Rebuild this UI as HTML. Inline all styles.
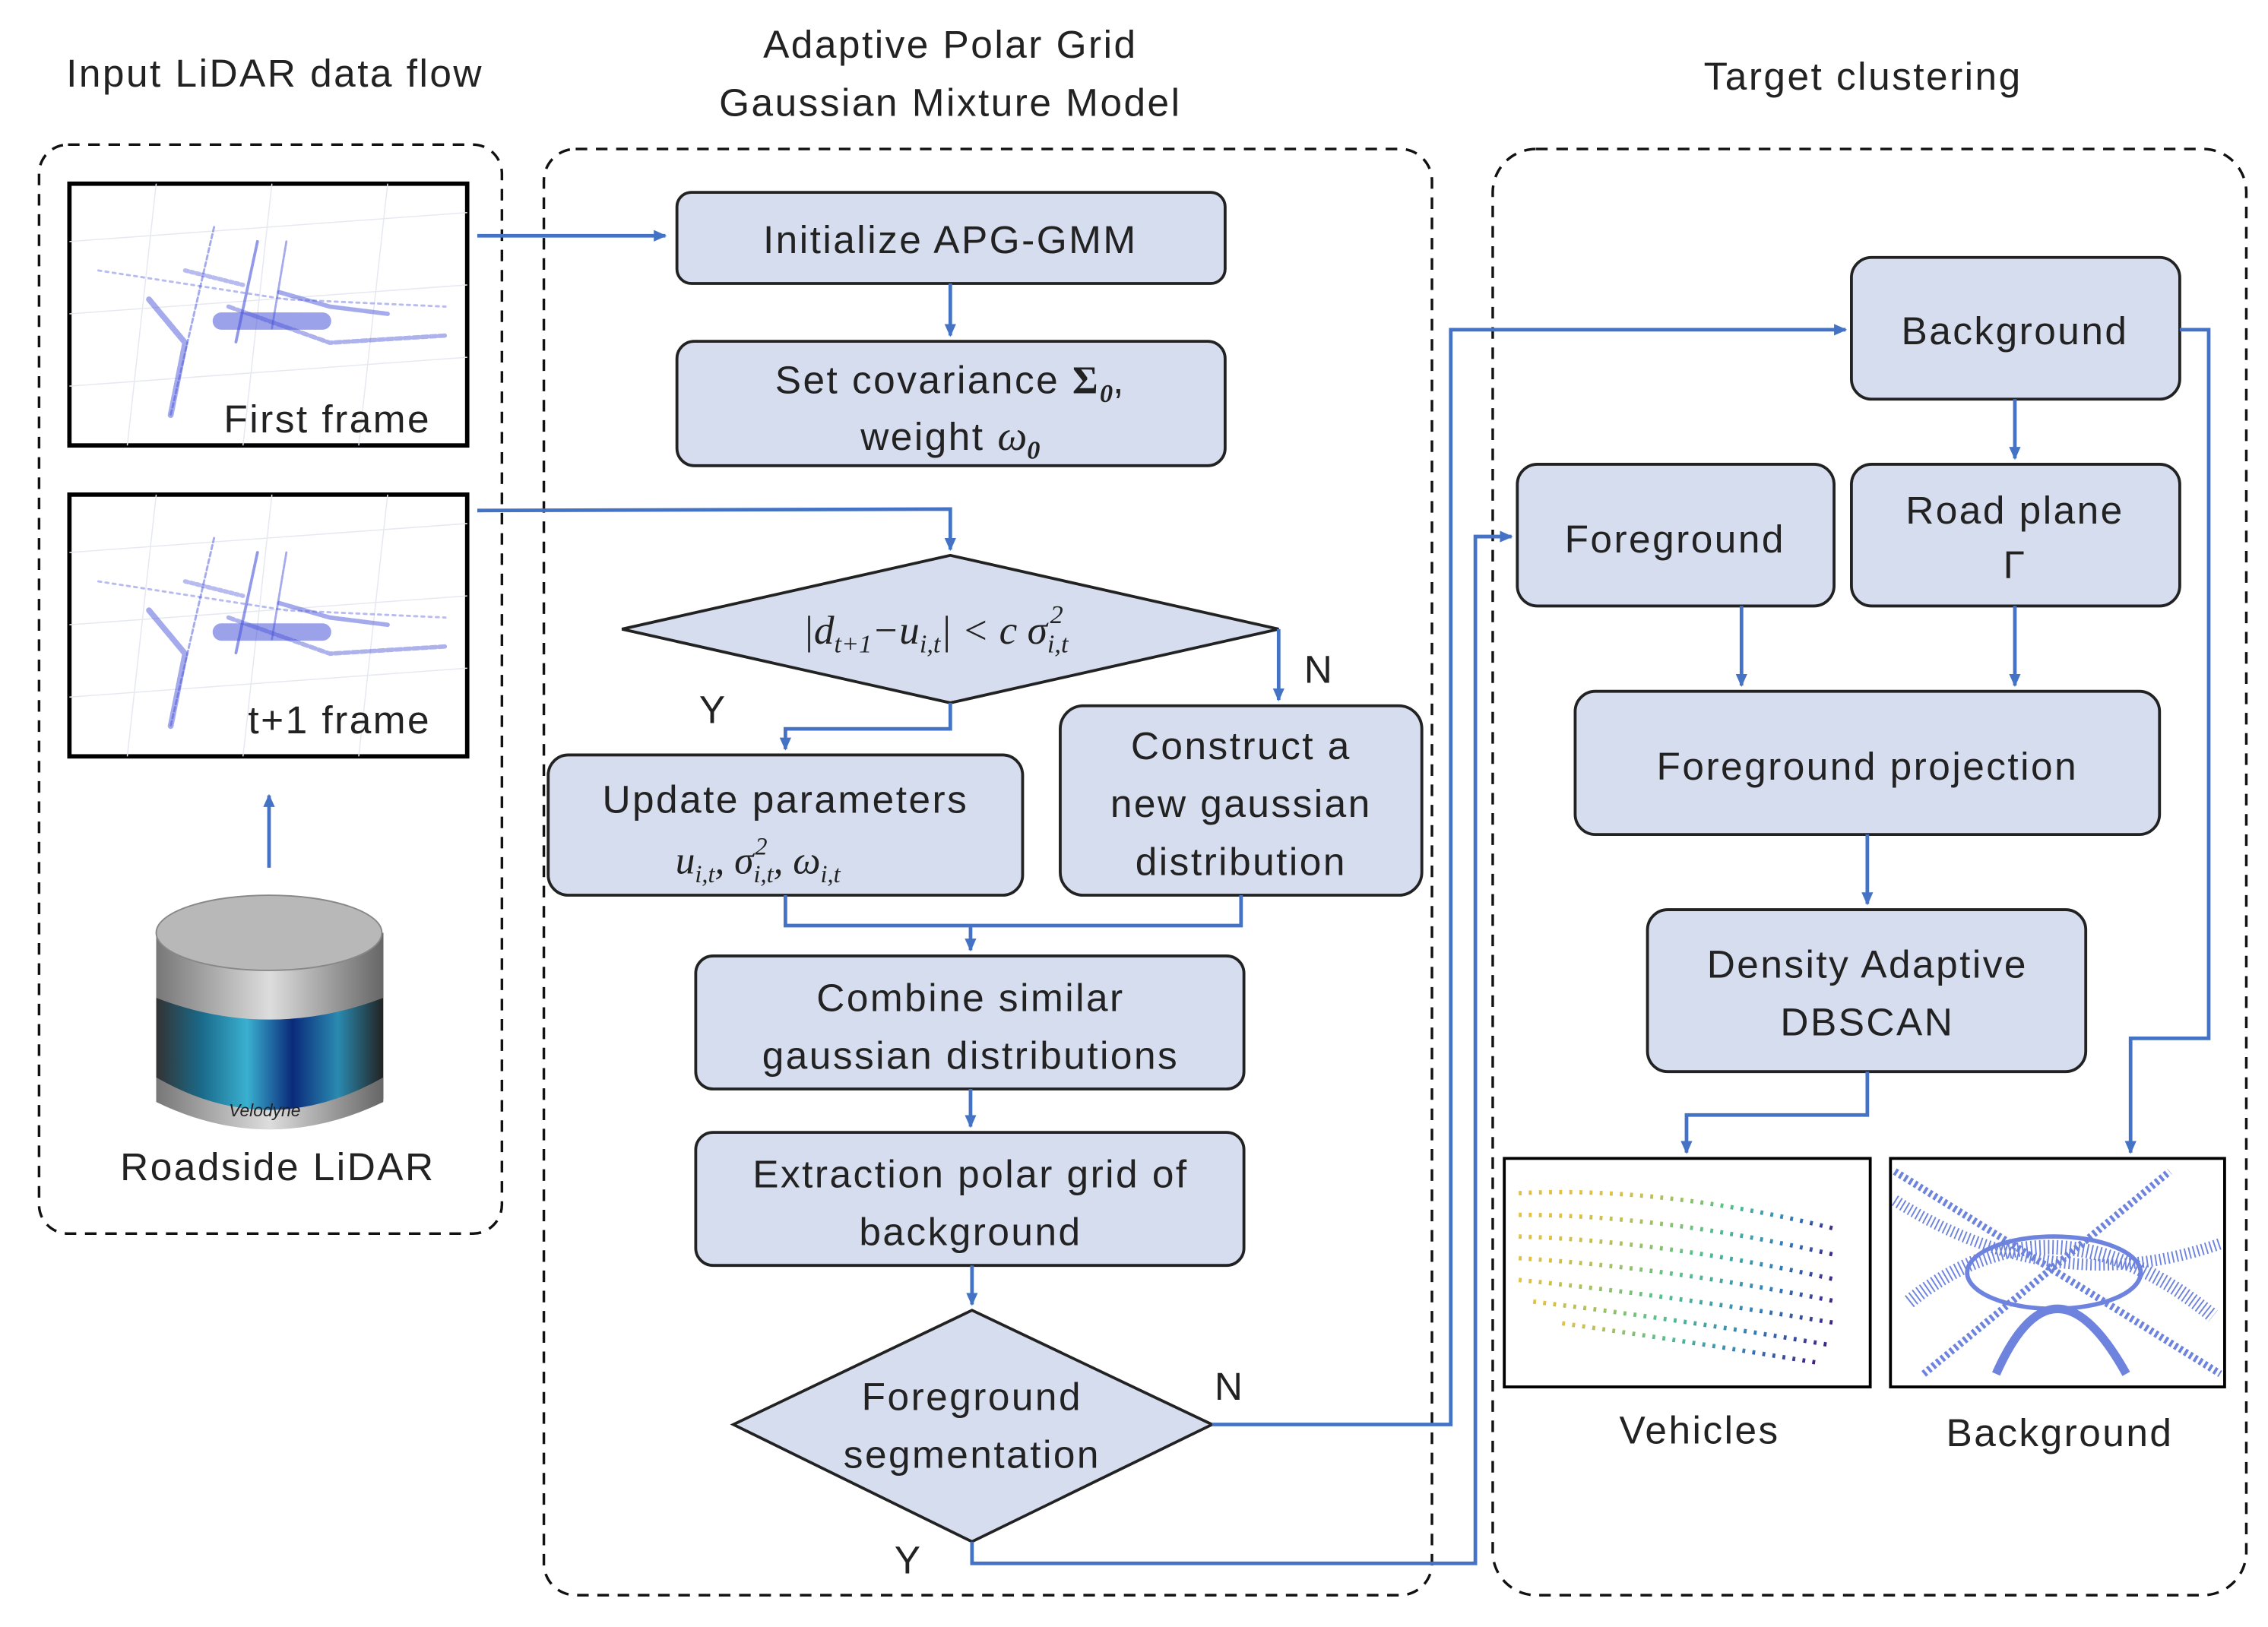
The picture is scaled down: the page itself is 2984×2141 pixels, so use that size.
<!DOCTYPE html>
<html><head><meta charset="utf-8"><style>
html,body{margin:0;padding:0;background:#fff}
svg{display:block}
text{font-family:"Liberation Sans",sans-serif;fill:#222}
.t{letter-spacing:1.3px}
.m{font-family:"Liberation Serif",serif;font-style:italic;letter-spacing:0}
</style></head><body>
<svg width="2984" height="2141" viewBox="0 0 1568 1125" xmlns="http://www.w3.org/2000/svg">
<defs>
<marker id="a" markerWidth="10" markerHeight="10" refX="8" refY="5" orient="auto" markerUnits="userSpaceOnUse"><path d="M0,1 L9,5 L0,9 Z" fill="#4472c4"/></marker>
<g id="pc">
<rect x="0" y="0" width="275" height="181" fill="#fff" stroke="#000" stroke-width="3"/>
<g stroke="#e6e9f0" stroke-width="0.8"><line x1="0" y1="40" x2="275" y2="20"/><line x1="0" y1="90" x2="275" y2="70"/><line x1="0" y1="140" x2="275" y2="120"/><line x1="60" y1="0" x2="40" y2="181"/><line x1="140" y1="0" x2="120" y2="181"/><line x1="220" y1="0" x2="200" y2="181"/></g>
<g stroke="#4a55d8" fill="none" stroke-linecap="round">
<path d="M20,60 L150,80 L260,85" stroke-width="1.5" opacity=".4" stroke-dasharray="2 3"/>
<path d="M100,30 L70,160" stroke-width="1.5" opacity=".5" stroke-dasharray="3 2"/>
<path d="M130,40 L115,110" stroke-width="2" opacity=".6" stroke-dasharray="3 1"/>
<path d="M150,40 L140,100" stroke-width="1.5" opacity=".5" stroke-dasharray="3 1"/>
<path d="M55,80 L80,110 L70,160" stroke-width="4" opacity=".5" stroke-dasharray="3 1"/>
<path d="M105,95 L175,95" stroke-width="12" opacity=".55" stroke-dasharray="2 1"/>
<path d="M110,85 L180,110 L260,105" stroke-width="3" opacity=".45" stroke-dasharray="4 2"/>
<path d="M145,75 L180,85 L220,90" stroke-width="3" opacity=".5" stroke-dasharray="3 1"/>
<path d="M80,60 L120,70" stroke-width="3" opacity=".4" stroke-dasharray="2 2"/>
</g>
</g>
</defs>
<g fill="none" stroke="#111" stroke-width="1.8" stroke-dasharray="8 6">
<rect x="27" y="100" width="320" height="753" rx="20"/>
<rect x="376" y="103" width="614" height="1000" rx="22"/>
<rect x="1032" y="103" width="521" height="1000" rx="30"/>
</g>
<g font-size="27" text-anchor="middle" class="t">
<text x="190" y="60">Input LiDAR data flow</text>
<text x="657" y="40">Adaptive Polar Grid</text>
<text x="657" y="80">Gaussian Mixture Model</text>
<text x="1288" y="62">Target clustering</text>
</g>
<use href="#pc" x="48" y="127"/>
<use href="#pc" x="48" y="342"/>
<text x="298" y="299" font-size="27" text-anchor="end" class="t">First frame</text>
<text x="298" y="507" font-size="27" text-anchor="end" class="t">t+1 frame</text>
<defs><linearGradient id="cy" x1="0" x2="1"><stop offset="0" stop-color="#333"/><stop offset=".2" stop-color="#1a6a8a"/><stop offset=".4" stop-color="#3ab0d0"/><stop offset=".6" stop-color="#0a2a7a"/><stop offset=".8" stop-color="#2a8ab0"/><stop offset="1" stop-color="#222"/></linearGradient>
<linearGradient id="sv" x1="0" x2="1"><stop offset="0" stop-color="#777"/><stop offset=".5" stop-color="#ddd"/><stop offset="1" stop-color="#666"/></linearGradient></defs>
<path d="M108,645 L108,760 Q186,800 265,760 L265,645 Z" fill="url(#cy)"/>
<path d="M108,745 Q186,790 265,745 L265,762 Q186,800 108,762 Z" fill="url(#sv)"/>
<path d="M108,645 L108,690 Q186,720 265,690 L265,645 Z" fill="url(#sv)"/>
<ellipse cx="186" cy="645" rx="78" ry="26" fill="#b8b8b8" stroke="#888"/>
<text x="183" y="772" font-size="12" fill="#333" text-anchor="middle" font-style="italic">Velodyne</text>
<text x="192" y="816" font-size="27" text-anchor="middle" class="t">Roadside LiDAR</text>
<g fill="#d6ddef" stroke="#222" stroke-width="2">
<rect x="468" y="133" width="379" height="63" rx="10"/>
<rect x="468" y="236" width="379" height="86" rx="12"/>
<polygon points="430,435 657,384 884,435 657,486"/>
<rect x="379" y="522" width="328" height="97" rx="14"/>
<rect x="733" y="488" width="250" height="131" rx="16"/>
<rect x="481" y="661" width="379" height="92" rx="12"/>
<rect x="481" y="783" width="379" height="92" rx="12"/>
<polygon points="507,985 672,906 838,985 672,1066"/>
<rect x="1280" y="178" width="227" height="98" rx="14"/>
<rect x="1049" y="321" width="219" height="98" rx="14"/>
<rect x="1280" y="321" width="227" height="98" rx="14"/>
<rect x="1089" y="478" width="404" height="99" rx="14"/>
<rect x="1139" y="629" width="303" height="112" rx="14"/>
</g>
<g font-size="27" text-anchor="middle" class="t">
<text x="657" y="175">Initialize APG-GMM</text>
<text x="657" y="272">Set covariance <tspan font-family="Liberation Serif,serif" font-weight="bold">Σ</tspan><tspan class="m" font-weight="bold" font-size="18" dy="6">0</tspan><tspan dy="-6">,</tspan></text>
<text x="657" y="311">weight <tspan class="m" font-size="29">ω</tspan><tspan class="m" font-weight="bold" font-size="18" dy="6">0</tspan></text>
<text x="555" y="445" text-anchor="start" class="m" font-size="28">|d<tspan font-size="18" dy="6">t+1</tspan><tspan dy="-6">−u</tspan><tspan font-size="18" dy="6">i,t</tspan><tspan dy="-6">| &lt; c σ</tspan><tspan font-size="18" dy="6">i,t</tspan></text>
<text x="726" y="431" class="m" font-size="18" text-anchor="start">2</text>
<text x="543" y="562">Update parameters</text>
<text x="467" y="604" text-anchor="start" class="m" font-size="27">u<tspan font-size="17" dy="6">i,t</tspan><tspan dy="-6">, σ</tspan><tspan font-size="17" dy="6">i,t</tspan><tspan dy="-6">, ω</tspan><tspan font-size="17" dy="6">i,t</tspan></text>
<text x="522" y="591" class="m" font-size="17" text-anchor="start">2</text>
<text x="858" y="525">Construct a</text>
<text x="858" y="565">new gaussian</text>
<text x="858" y="605">distribution</text>
<text x="671" y="699">Combine similar</text>
<text x="671" y="739">gaussian distributions</text>
<text x="671" y="821">Extraction polar grid of</text>
<text x="671" y="861">background</text>
<text x="672" y="975">Foreground</text>
<text x="672" y="1015">segmentation</text>
<text x="1393" y="238">Background</text>
<text x="1158" y="382">Foreground</text>
<text x="1393" y="362">Road plane</text>
<text x="1393" y="400" font-family="Liberation Serif,serif">Γ</text>
<text x="1291" y="539">Foreground projection</text>
<text x="1291" y="676">Density Adaptive</text>
<text x="1291" y="716">DBSCAN</text>
<text x="493" y="500">Y</text><text x="912" y="472">N</text>
<text x="850" y="968">N</text><text x="628" y="1088">Y</text>
<text x="1175" y="998">Vehicles</text>
<text x="1424" y="1000">Background</text>
</g>
<rect x="1040" y="801" width="253" height="158" fill="#fff" stroke="#000" stroke-width="2"/>
<defs><linearGradient id="vg" x1="0" y1="0" x2="0" y2="1"><stop offset="0" stop-color="#e8c040"/><stop offset=".4" stop-color="#50c090"/><stop offset=".7" stop-color="#3080c0"/><stop offset="1" stop-color="#402080"/></linearGradient></defs>
<g stroke="url(#vg)" stroke-width="3" stroke-dasharray="2 5" fill="none">
<path d="M1050,825 Q1150,820 1270,850" /><path d="M1050,840 Q1150,840 1270,868"/><path d="M1050,855 Q1150,858 1270,885"/><path d="M1050,870 Q1150,876 1270,900"/><path d="M1050,885 Q1150,895 1270,915"/><path d="M1060,900 Q1160,912 1265,930"/><path d="M1080,915 Q1170,928 1255,942"/>
</g>
<rect x="1307" y="801" width="231" height="158" fill="#fff" stroke="#000" stroke-width="2"/>
<g stroke="#3050d0" fill="none" opacity=".7">
<path d="M1310,830 Q1420,900 1535,860" stroke-width="8" stroke-dasharray="1 2"/>
<path d="M1320,900 Q1420,820 1530,910" stroke-width="10" stroke-dasharray="1 2"/>
<path d="M1380,950 Q1420,860 1470,950" stroke-width="6"/>
<path d="M1310,810 L1535,950" stroke-width="5" stroke-dasharray="2 2"/>
<path d="M1330,950 L1500,810" stroke-width="5" stroke-dasharray="2 2"/>
<ellipse cx="1420" cy="880" rx="60" ry="25" stroke-width="3"/>
</g>
<g fill="none" stroke="#4472c4" stroke-width="2.5" marker-end="url(#a)">
<path d="M330,163 L460,163"/>
<path d="M657,196 L657,232"/>
<path d="M330,353 L657,352 L657,380"/>
<path d="M186,600 L186,550"/>
<path d="M657,486 L657,504 L543,504 L543,518"/>
<path d="M884,435 L884,484"/>
<path d="M671,640 L671,657"/>
<path d="M671,753 L671,779"/>
<path d="M672,875 L672,902"/>
<path d="M838,985 L1003,985 L1003,228 L1276,228"/>
<path d="M672,1066 L672,1081 L1020,1081 L1020,371 L1045,371"/>
<path d="M1507,228 L1527,228 L1527,718 L1473,718 L1473,797"/>
<path d="M1393,276 L1393,317"/>
<path d="M1204,419 L1204,474"/>
<path d="M1393,419 L1393,474"/>
<path d="M1291,577 L1291,625"/>
<path d="M1291,741 L1291,771 L1166,771 L1166,797"/>
</g>
<path d="M543,619 L543,640 L858,640 L858,619" fill="none" stroke="#4472c4" stroke-width="2.5"/>
</svg>
</body></html>
